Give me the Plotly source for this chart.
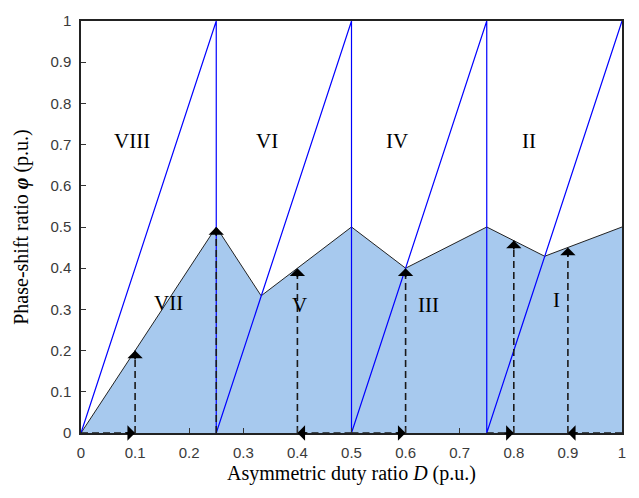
import plotly.graph_objects as go

# ---- data ----
# boundary of the shaded region
bound_D = [0, 0.25, 0.333, 0.5, 0.6, 0.75, 0.857, 1.0]
bound_phi = [0, 0.5, 0.333, 0.5, 0.4, 0.5, 0.429, 0.5]

# blue sawtooth lines
saw_D = [0, 0.25, 0.25, 0.5, 0.5, 0.75, 0.75, 1.0]
saw_phi = [0, 1.0, 0, 1.0, 0, 1.0, 0, 1.0]

# dashed arrows: start D on the axis, corner D, end phi
arrow_start_D = [0, 0.25, 0.5, 0.5, 0.75, 1.0]
arrow_corner_D = [0.1, 0.25, 0.4, 0.6, 0.8, 0.9]
arrow_end_phi = [0.2, 0.5, 0.4, 0.4, 0.467, 0.45]

# region labels
region_names = ["VIII", "VII", "VI", "V", "IV", "III", "II", "I"]
label_D = [0.094, 0.161, 0.343, 0.403, 0.584, 0.643, 0.828, 0.878]
label_phi = [0.708, 0.316, 0.708, 0.311, 0.708, 0.31, 0.708, 0.323]

tick_vals = [0, 0.1, 0.2, 0.3, 0.4, 0.5, 0.6, 0.7, 0.8, 0.9, 1]
tick_text = ["0", "0.1", "0.2", "0.3", "0.4", "0.5", "0.6", "0.7", "0.8", "0.9", "1"]

fig = go.Figure()

fig.add_trace(go.Scatter(
    x=bound_D, y=bound_phi, mode="lines", fill="tozeroy",
    fillcolor="#a7c9ee", line=dict(color="#222222", width=1),
    hoverinfo="skip", showlegend=False))

fig.add_trace(go.Scatter(
    x=saw_D, y=saw_phi, mode="lines",
    line=dict(color="#0000ff", width=1.2),
    hoverinfo="skip", showlegend=False))

dash_color = "#1a1a1a"


def add_head(x_tip, y_tip, x_from, y_from):
    fig.add_annotation(x=x_tip, y=y_tip, ax=x_from, ay=y_from,
                       xref="x", yref="y", axref="x", ayref="y",
                       text="", showarrow=True, arrowhead=1, arrowsize=1.6,
                       arrowwidth=1.6, arrowcolor="black")


for sD, cD, ep in zip(arrow_start_D, arrow_corner_D, arrow_end_phi):
    if sD != cD:
        fig.add_trace(go.Scatter(
            x=[sD, cD], y=[0, 0], mode="lines",
            line=dict(color=dash_color, width=1.6, dash="7px,4px"),
            hoverinfo="skip", showlegend=False))
        direction = 1 if cD > sD else -1
        add_head(cD, 0, cD - direction * 0.02, 0)
    fig.add_trace(go.Scatter(
        x=[cD, cD], y=[0, ep], mode="lines",
        line=dict(color=dash_color, width=1.6, dash="7px,4px"),
        hoverinfo="skip", showlegend=False))
    add_head(cD, ep, cD, ep - 0.025)

for name, xd, yp in zip(region_names, label_D, label_phi):
    fig.add_annotation(x=xd, y=yp, text=name, showarrow=False,
                       font=dict(family="Liberation Serif", size=21, color="black"))

axis_common = dict(
    range=[0, 1], tickvals=tick_vals, ticktext=tick_text,
    ticks="inside", ticklen=5, tickcolor="#333333",
    showline=True, linecolor="#222222", linewidth=1.5, mirror=True,
    showgrid=False, zeroline=False,
    tickfont=dict(family="Liberation Sans", size=15, color="#3a3a3a"),
)

fig.update_xaxes(**axis_common, ticklabelstandoff=5,
                 title=dict(text="Asymmetric duty ratio <i>D</i> (p.u.)",
                            font=dict(family="Liberation Serif", size=20, color="black"),
                            standoff=6))
fig.update_yaxes(**axis_common, ticklabelstandoff=5,
                 title=dict(text="Phase-shift ratio <b><i>φ</i></b> (p.u.)",
                            font=dict(family="Liberation Serif", size=20, color="black"),
                            standoff=16))

fig.update_layout(
    width=639, height=498,
    margin=dict(l=81, r=17, t=12, b=65),
    paper_bgcolor="white", plot_bgcolor="white",
)

fig.write_html("out.html")
